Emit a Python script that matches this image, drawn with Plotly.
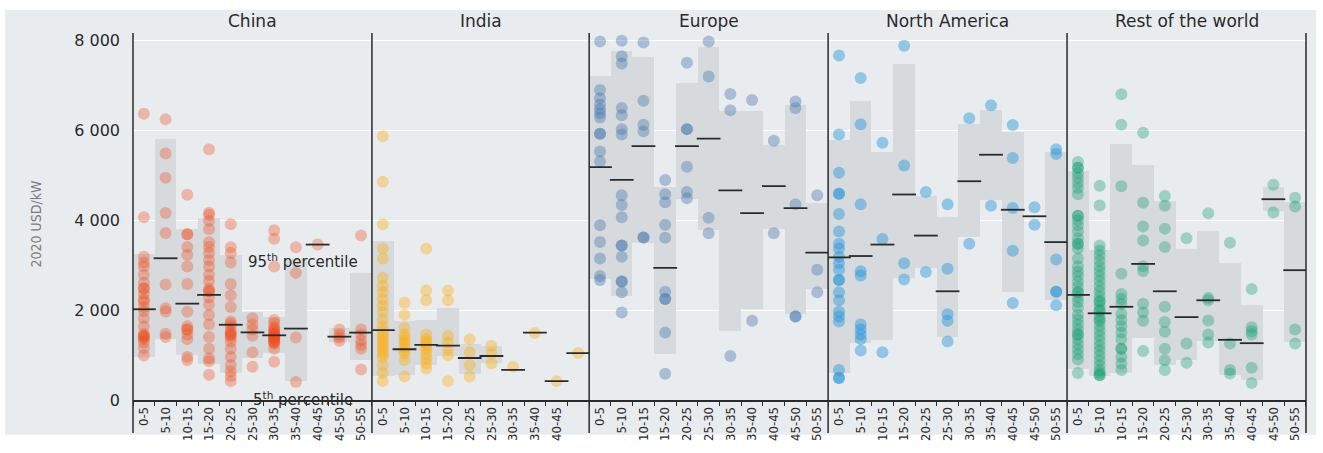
import plotly.graph_objects as go
from plotly.subplots import make_subplots

# ---- size bins (MW) ----
BINS_11 = ["0-5", "5-10", "10-15", "15-20", "20-25", "25-30",
           "30-35", "35-40", "40-45", "45-50", "50-55"]
BINS_10 = BINS_11[:10]
INDIA_TICKS = ["0-5", "5-10", "10-15", "15-20", "20-25", "25-30",
               "30-35", "35-40", "40-45"]

REGIONS = ["China", "India", "Europe", "North America", "Rest of the world"]

# ---- China ----
china_p5 = [950, 1350, 1000, 800, 600, 930, 1050, 430, None, 1300, 880]
china_p95 = [3250, 5800, 3800, 4050, 3230, 1950, 1850, 3150, None, 1600, 2830]
china_mid = [2020, 3155, 2145, 2340, 1675, 1505, 1440, 1590, 3460, 1410, 1500]
china_pts = [
    [6370, 4070, 3190, 3060, 2970, 2790, 2610, 2480, 2480, 2360, 2240, 2200, 2070,
     1980, 1820, 1640, 1475, 1425, 1420, 1400, 1355, 1280, 1160, 990],
    [6250, 5490, 4950, 4165, 3720, 2570, 2040, 1970, 1475, 1400],
    [4570, 3690, 3690, 3405, 3230, 2970, 2580, 1965, 1640, 1570, 1570, 1460,
     1355, 960, 890],
    [5580, 4170, 4125, 3990, 3800, 3510, 3405, 3275, 3115, 2970, 2790, 2650,
     2470, 2420, 2420, 2280, 2120, 1890, 1680, 1400, 1140, 930, 860, 560],
    [3910, 3400, 3275, 3060, 2580, 2330, 2070, 1750, 1700, 1640, 1530, 1500,
     1450, 1450, 1390, 1300, 1140, 960, 780, 640, 530, 420],
    [1820, 1680, 1570, 1430, 1060, 740],
    [3780, 3590, 2970, 1780, 1710, 1620, 1580, 1540, 1500, 1480, 1460, 1440,
     1420, 1400, 1390, 1370, 1350, 1320, 1300, 1280, 1250, 1140, 850],
    [3400, 2830, 1390, 400],
    [3460],
    [1570, 1460, 1390, 1320],
    [3660, 1570, 1460, 1330, 1230, 1140, 680],
]

# ---- India ----
india_p5 = [525, 560, 780, 990, 570, 820, None, None, None, None]
india_p95 = [3550, 1750, 1785, 2040, 1250, 1200, None, None, None, None]
india_mid = [1555, 1130, 1225, 1210, 935, 980, 670, 1500, 420, 1045]
india_pts = [
    [5870, 4860, 3910, 3370, 3150, 2720, 2540, 2400, 2250, 2110, 1965, 1790,
     1640, 1530, 1460, 1390, 1320, 1245, 1180, 1100, 1030, 955, 780, 600, 420],
    [2165, 1895, 1605, 1460, 1390, 1315, 1250, 1175, 1100, 1030, 885, 525],
    [3370, 2440, 2220, 1460, 1350, 1300, 1245, 1180, 1135, 1030, 920, 810, 700],
    [2435, 2220, 1425, 1280, 1135, 990, 420],
    [1355, 1065, 780, 525],
    [1210, 1030, 810],
    [740],
    [1490],
    [420],
    [1045],
]

# ---- Europe ----
europe_p5 = [2700, 2325, 3500, 1030, 4480, 3780, 1530, 2020, 3800, 1910, 2470]
europe_p95 = [7220, 7760, 7640, 4740, 7060, 7850, 6430, 6430, 5670, 6560, 4380]
europe_mid = [5185, 4900, 5650, 2940, 5650, 5820, 4665, 4160, 4760, 4270, 3280]
europe_pts = [
    [7980, 6900, 6720, 6580, 6470, 6380, 6290, 5925, 5925, 5530, 5315, 3890,
     3515, 3150, 2760, 2670],
    [8000, 7650, 7490, 6500, 6340, 6030, 5910, 4560, 4340, 4070, 3440, 3440,
     3190, 2640, 2640, 2400, 1950],
    [7960, 6660, 6130, 5980, 3620, 3620],
    [4900, 4580, 4400, 3900, 3610, 2410, 2250, 2250, 1500, 585],
    [7510, 6030, 6030, 5190, 4630, 4490],
    [7980, 7200, 4055, 3710],
    [6810, 6450, 980],
    [6680, 1765],
    [5770, 3710],
    [6645, 6500, 4355, 1860, 1860],
    [4560, 2900, 2400],
]

# ---- North America ----
namerica_p5 = [600, 1260, 1330, 2720, 2940, 1405, 3620, 4450, 2400, None, 2220]
namerica_p95 = [5780, 6660, 5530, 7475, 4540, 4070, 6140, 6445, 5975, None, 5530]
namerica_mid = [3175, 3205, 3460, 4575, 3660, 2420, 4870, 5460, 4235, 4090, 3515]
namerica_pts = [
    [7670, 5910, 5060, 4590, 4590, 4140, 3750, 3480, 3370, 3190, 3045, 2900,
     2670, 2670, 2400, 2220, 1965, 1860, 1750, 670, 490, 490],
    [7170, 6140, 4355, 2865, 2770, 1680, 1570, 1460, 1355, 1100],
    [5725, 3585, 1065],
    [7885, 5220, 3045, 2685],
    [4630, 2850],
    [4355, 2920, 1910, 1765, 1300],
    [6270, 3480],
    [6560, 4325],
    [6120, 5385, 4275, 3320, 2160],
    [4290, 3900],
    [5580, 5475, 3130, 2410, 2410, 2110],
]

# ---- Rest of the world ----
rest_p5 = [700, 525, 600, 1390, 780, 900, 1320, 560, 455, 4200, 1290]
rest_p95 = [5100, 3335, 5710, 5240, 4430, 3370, 3765, 3060, 2110, 4745, 4415]
rest_mid = [2340, 1930, 2075, 3030, 2420, 1845, 2220, 1340, 1265, 4470, 2890]
rest_pts = [
    [5300, 5170, 5170, 5050, 4950, 4830, 4720, 4580, 4100, 4100, 4000, 3890,
     3750, 3600, 3480, 3480, 3370, 3150, 2980, 2860, 2760, 2640, 2520, 2400,
     2400, 2290, 2180, 2060, 1900, 1790, 1680, 1570, 1460, 1460, 1355, 1240,
     1130, 1020, 900, 600],
    [4770, 4330, 3440, 3330, 3220, 3100, 2980, 2870, 2760, 2650, 2530, 2420,
     2310, 2200, 2200, 2090, 2000, 1980, 1870, 1800, 1760, 1650, 1540, 1430,
     1320, 1210, 1100, 990, 880, 770, 660, 600, 550, 550],
    [6805, 6130, 4760, 2810, 2360, 2250, 2140, 1920, 1780, 1640, 1500, 1355,
     1140, 1140, 960, 810, 670],
    [5950, 4390, 3860, 3550, 2975, 2870, 2145, 1950, 1765, 1090],
    [4540, 4325, 3815, 3405, 2075, 1735, 1520, 1140, 885, 670],
    [3600, 1260, 830],
    [4160, 2270, 2220, 1770, 1460, 1280],
    [3500, 1260, 670, 590],
    [2470, 1620, 1530, 1460, 720, 380],
    [4790, 4175],
    [4500, 4305, 1570, 1260],
]

PANELS = [
    (BINS_11, china_p5, china_p95, china_mid, china_pts, "rgba(240,80,30,0.34)"),
    (BINS_10, india_p5, india_p95, india_mid, india_pts, "rgba(252,175,20,0.40)"),
    (BINS_11, europe_p5, europe_p95, europe_mid, europe_pts, "rgba(70,120,175,0.40)"),
    (BINS_11, namerica_p5, namerica_p95, namerica_mid, namerica_pts, "rgba(40,150,220,0.46)"),
    (BINS_11, rest_p5, rest_p95, rest_mid, rest_pts, "rgba(20,160,110,0.36)"),
]

BG = "#e9ecef"
BAND = "#d6dadd"
INK = "#2a2a2a"
NARROW = "Liberation Sans Narrow, DejaVu Sans Condensed, Arial Narrow, sans-serif"
WIDE = "DejaVu Sans, Verdana, sans-serif"

widths = [len(p[0]) for p in PANELS]
fig = make_subplots(rows=1, cols=5, shared_yaxes=True,
                    column_widths=widths, horizontal_spacing=0)

for i, (cats, lo, hi, mid, pts, color) in enumerate(PANELS, start=1):
    # 5th-95th percentile band
    bx, bbase, bh = [], [], []
    for c, a, b in zip(cats, lo, hi):
        if a is not None and b is not None:
            bx.append(c)
            bbase.append(a)
            bh.append(b - a)
    fig.add_trace(go.Bar(x=bx, y=bh, base=bbase, width=1,
                         marker=dict(color=BAND, line=dict(width=0)),
                         hoverinfo="skip", showlegend=False), row=1, col=i)
    # individual projects
    px_, py_ = [], []
    for c, vals in zip(cats, pts):
        px_.extend([c] * len(vals))
        py_.extend(vals)
    fig.add_trace(go.Scatter(x=px_, y=py_, mode="markers",
                             marker=dict(size=12, color=color, line=dict(width=0)),
                             hoverinfo="y", showlegend=False), row=1, col=i)
    # weighted average marker
    fig.add_trace(go.Scatter(x=cats, y=mid, mode="markers",
                             marker=dict(symbol="line-ew", size=17,
                                         line=dict(width=1.8, color=INK)),
                             hoverinfo="y", showlegend=False), row=1, col=i)

    ax = dict(type="category", categoryorder="array", categoryarray=cats,
              range=[-0.5, len(cats) - 0.5], showgrid=False, zeroline=False,
              showline=True, linecolor=INK, linewidth=1.5,
              ticks="outside", tickson="boundaries", ticklen=4, tickwidth=1,
              tickcolor=INK, tickangle=-90,
              tickfont=dict(family=NARROW, size=13, color=INK))
    if len(cats) == 10:
        ax.update(tickmode="array", tickvals=cats[:9], ticktext=INDIA_TICKS)
    fig.update_xaxes(ax, row=1, col=i)

fig.update_yaxes(range=[0, 8170], tickmode="array",
                 tickvals=[0, 2000, 4000, 6000, 8000],
                 ticktext=["0", "2 000", "4 000", "6 000", "8 000"],
                 showgrid=True, gridcolor="white", gridwidth=1,
                 zeroline=False, showline=False, ticks="",
                 ticklabelstandoff=12,
                 tickfont=dict(family=WIDE, size=16, color=INK))

total = sum(widths)
shapes = [dict(type="rect", xref="paper", yref="paper", layer="below",
               x0=-0.109, x1=1.0085, y0=-0.095, y1=1.063,
               fillcolor=BG, line=dict(width=0))]
edge = 0
for w in [0] + widths:
    edge += w
    shapes.append(dict(type="line", xref="paper", yref="paper",
                       x0=edge / total, x1=edge / total, y0=-0.09, y1=1.0,
                       line=dict(color=INK, width=1.5)))

annotations = []
for i, name in enumerate(REGIONS, start=1):
    xr = "x domain" if i == 1 else f"x{i} domain"
    annotations.append(dict(text=name, xref=xr, yref="paper",
                            x=0.5, xanchor="center", y=1.0, yshift=12,
                            showarrow=False, yanchor="middle",
                            font=dict(family=WIDE, size=17, color=INK)))
annotations += [
    dict(text="2020 USD/kW", xref="paper", yref="paper", x=-0.083, y=0.48,
         xanchor="center", yanchor="middle",
         textangle=-90, showarrow=False,
         font=dict(family=NARROW, size=14, color="#7a7a7a")),
    dict(text="95<sup>th</sup> percentile", xref="x domain", yref="y",
         x=0.71, xanchor="center", y=3200, yanchor="middle", yshift=-5,
         showarrow=False,
         font=dict(family=WIDE, size=15, color=INK)),
    dict(text="5<sup>th</sup> percentile", xref="x domain", yref="y",
         x=0.71, xanchor="center", y=150, yanchor="middle", yshift=-6,
         showarrow=False,
         font=dict(family=WIDE, size=15, color=INK)),
]

fig.update_layout(width=1323, height=453,
                  margin=dict(l=133, r=17, t=33, b=42),
                  paper_bgcolor="white", plot_bgcolor=BG,
                  barmode="overlay", bargap=0,
                  shapes=shapes, annotations=annotations,
                  showlegend=False)

fig.write_html("out.html")
